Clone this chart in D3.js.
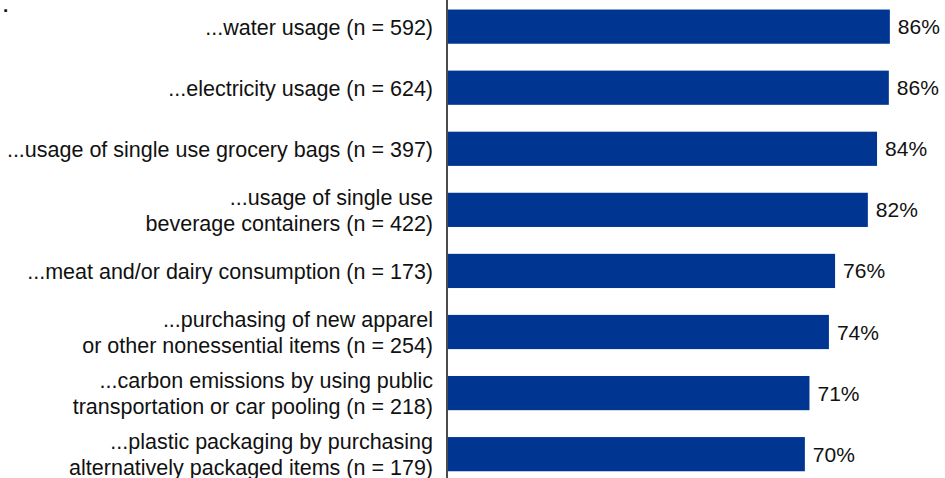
<!DOCTYPE html>
<html>
<head>
  <script src="https://cdnjs.cloudflare.com/ajax/libs/d3/7.8.5/d3.min.js"></script>
  <style>
    body { margin: 0; background: #fff; }
    text { font-family: "Liberation Sans", Arial, sans-serif; fill: #111; }
  </style>
</head>
<body>
  <div id="chart"></div>
  <script>
    // Category labels (each entry = lines of the label)
    const categories = [
      ["...water usage (n = 592)"],
      ["...electricity usage (n = 624)"],
      ["...usage of single use grocery bags (n = 397)"],
      ["...usage of single use", "beverage containers (n = 422)"],
      ["...meat and/or dairy consumption (n = 173)"],
      ["...purchasing of new apparel", "or other nonessential items (n = 254)"],
      ["...carbon emissions by using public", "transportation or car pooling (n = 218)"],
      ["...plastic packaging by purchasing", "alternatively packaged items (n = 179)"]
    ];
    // Share of respondents, percent
    const values = [86.3, 86.1, 83.8, 82.0, 75.6, 74.4, 70.6, 69.7];

    const W = 945, H = 478;
    const x0 = 448;

    const svg = d3.select("#chart").append("svg")
      .attr("width", W)
      .attr("height", H);

    const x = d3.scaleLinear()
      .domain([0, 100])
      .range([x0, x0 + 512]);

    const y = d3.scaleBand()
      .domain(d3.range(categories.length))
      .range([-3.9, 484.7])
      .paddingInner(0.44)
      .paddingOuter(0.22);

    // bars
    svg.selectAll("rect.bar")
      .data(values)
      .join("rect")
        .attr("class", "bar")
        .attr("x", x(0))
        .attr("y", (d, i) => y(i))
        .attr("width", d => x(d) - x(0))
        .attr("height", y.bandwidth())
        .attr("fill", "#003591");

    // value labels
    svg.selectAll("text.val")
      .data(values)
      .join("text")
        .attr("class", "val")
        .attr("x", d => x(d) + 8)
        .attr("y", (d, i) => y(i) + y.bandwidth() / 2)
        .attr("dy", "0.36em")
        .style("font-size", "21px")
        .text(d => Math.round(d) + "%");

    // category labels
    const lab = svg.selectAll("text.cat")
      .data(categories)
      .join("text")
        .attr("class", "cat")
        .attr("text-anchor", "end")
        .style("font-size", "21.5px");

    lab.each(function(lines, i) {
      const cy = y(i) + y.bandwidth() / 2;
      const lh = 26;
      d3.select(this).selectAll("tspan")
        .data(lines)
        .join("tspan")
          .attr("x", 433)
          .attr("y", (d, j) => cy + (j - (lines.length - 1) / 2) * lh)
          .attr("dy", "0.38em")
          .text(d => d);
    });

    // vertical axis line
    svg.append("line")
      .attr("x1", 447).attr("x2", 447)
      .attr("y1", 0).attr("y2", H)
      .attr("stroke", "#111")
      .attr("stroke-width", 1.5);

    // stray dot in the corner
    svg.append("text")
      .attr("x", 3)
      .attr("y", 12)
      .style("font-size", "19px")
      .style("font-weight", "bold")
      .text(".");
  </script>
</body>
</html>
